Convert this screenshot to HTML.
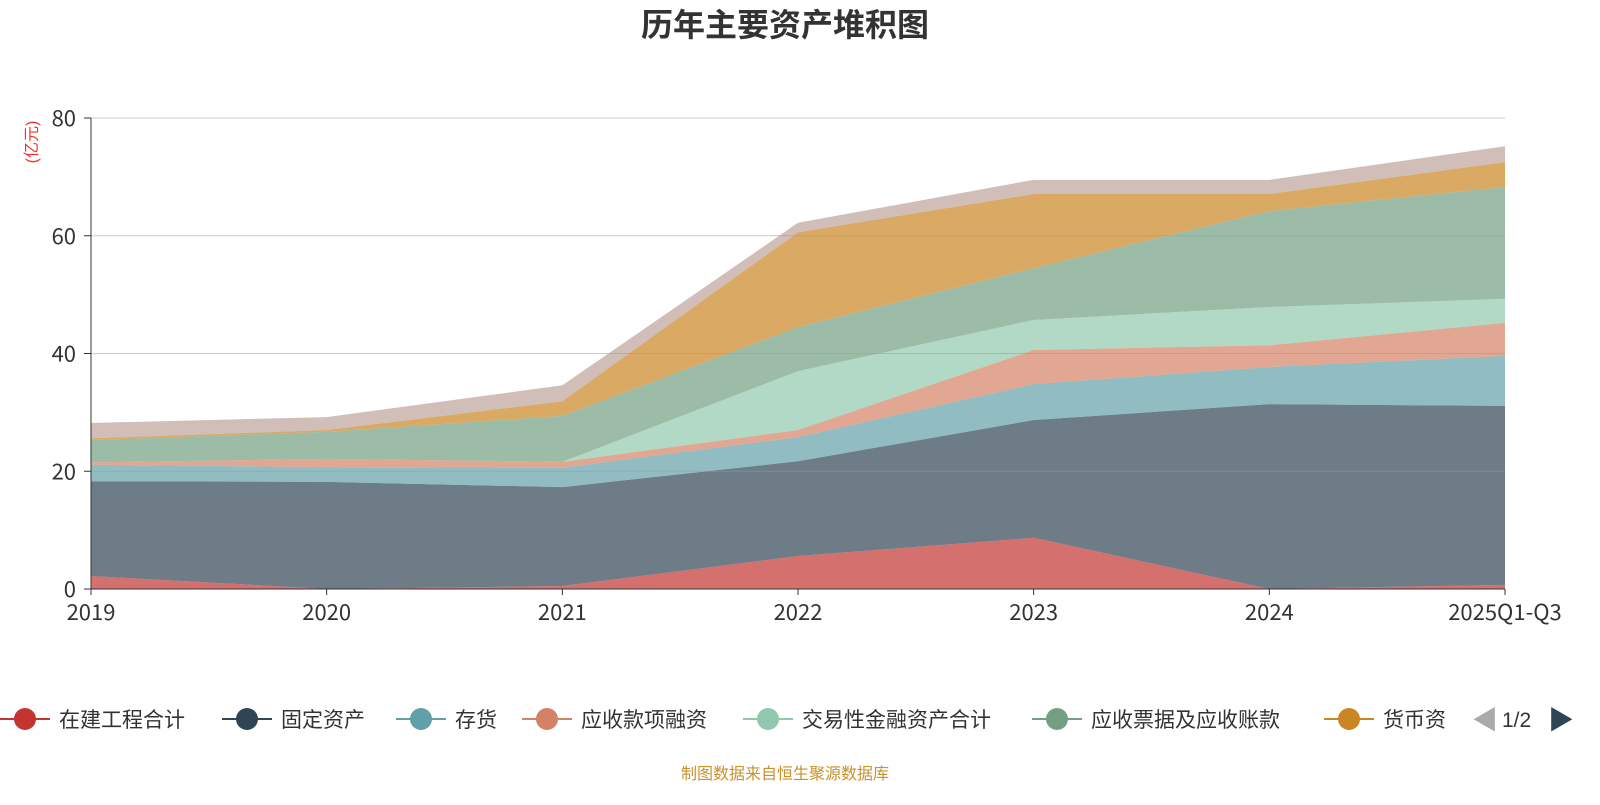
<!DOCTYPE html>
<html><head><meta charset="utf-8"><style>
body{margin:0;background:#fff;}
svg text{font-family:"Liberation Sans","Noto Sans CJK SC",sans-serif;}
svg text.tick{font-family:"Noto Sans CJK SC","Liberation Sans",sans-serif;}
</style></head><body>
<svg id="chart" width="1600" height="800" viewBox="0 0 1600 800" xmlns="http://www.w3.org/2000/svg">
<text x="785" y="36" text-anchor="middle" font-size="32" font-weight="bold" fill="#333">历年主要资产堆积图</text>
<text transform="translate(37,142) rotate(-90)" text-anchor="middle" font-size="16" fill="#e33">(亿元)</text>
<g id="areas"></g>
<g id="grid"></g>
<g id="axes"></g>
<g id="legend"></g>
<text x="1472" y="729" font-size="26" fill="#aaa">◀</text>
<text x="1502" y="727" font-size="21" fill="#333">1/2</text>
<text x="1548" y="729" font-size="26" fill="#2f4554">▶</text>
<text x="785" y="779" text-anchor="middle" font-size="16" fill="#c8922a">制图数据来自恒生聚源数据库</text>
</svg>
<script>
const categories=["2019","2020","2021","2022","2023","2024","2025Q1-Q3"];
const seriesNames=["在建工程合计","固定资产","存货","应收款项融资","交易性金融资产合计","应收票据及应收账款","货币资金","其他"];
const s0=[2.2,0,0.5,5.6,8.7,0,0.7];
const s1=[16.1,18.2,16.8,16.1,20.0,31.4,30.4];
const s2=[2.8,2.5,3.3,4.1,6.1,6.3,8.5];
const s3=[0.4,1.4,1.0,1.2,5.8,3.7,5.6];
const s4=[0,0,0,10.0,5.1,6.5,4.1];
const s5=[3.8,4.6,7.8,7.5,8.8,16.3,19.0];
const s6=[0.3,0.3,2.5,16.1,12.6,2.9,4.2];
const s7=[2.6,2.2,2.7,1.6,2.4,2.4,2.7];
const yTicks=[0,20,40,60,80];
const colors=["#c23531","#2f4554","#61a0a8","#d48265","#91c7ae","#749f83","#ca8622","#bda29a"];
const series=[s0,s1,s2,s3,s4,s5,s6,s7];
const NS="http://www.w3.org/2000/svg";
const x=i=>91+i*(1505-91)/(categories.length-1);
const y=v=>589-v*(589-118)/80;
function mk(tag,attrs,parent){const e=document.createElementNS(NS,tag);for(const k in attrs)e.setAttribute(k,attrs[k]);parent.appendChild(e);return e;}
const areas=document.getElementById('areas');
let base=categories.map(()=>0);
series.forEach((s,k)=>{
  const top=base.map((b,i)=>b+s[i]);
  let d="M"+top.map((v,i)=>x(i)+","+y(v)).join(" L");
  for(let i=categories.length-1;i>=0;i--)d+=" L"+x(i)+","+y(base[i]);
  d+=" Z";
  const p=mk('path',{d:d,fill:colors[k],'fill-opacity':0.7,stroke:'none'},areas);
  
  
  base=top;
});
const grid=document.getElementById('grid');
yTicks.forEach(t=>{
  if(t>0){const l=mk('line',{x1:91,x2:1505,y1:y(t),y2:y(t),stroke:'#999','stroke-opacity':0.5,'stroke-width':1},grid);
  
  }
  const tk=mk('line',{x1:84,x2:91,y1:y(t),y2:y(t),stroke:'#333'},grid);
  
  
  const tx=mk('text',{x:76,y:y(t)+8,'text-anchor':'end','font-size':22,fill:'#333',class:'tick'},grid);
  tx.textContent=t;
  
  
});
const axes=document.getElementById('axes');
const ya=mk('line',{x1:91,x2:91,y1:118,y2:589,stroke:'#333'},axes);


const xa=mk('line',{x1:91,x2:1505,y1:589,y2:589,stroke:'#333'},axes);


categories.forEach((c,i)=>{
  const tk=mk('line',{x1:x(i),x2:x(i),y1:589,y2:595,stroke:'#333'},axes);
  
  
  const t=mk('text',{x:x(i),y:620,'text-anchor':'middle','font-size':22,fill:'#333',class:'tick'},axes);
  t.textContent=c;
  
  
});
const lg=document.getElementById('legend');
const lx=[0,222,396,522,743,1032,1324];
for(let k=0;k<7;k++){
  const g=mk('g',{},lg);
  
  
  mk('line',{x1:lx[k],x2:lx[k]+50,y1:719,y2:719,stroke:colors[k],'stroke-width':2},g);
  mk('circle',{cx:lx[k]+25,cy:719,r:11,fill:colors[k]},g);
  const t=mk('text',{x:lx[k]+59,y:727,'font-size':21,fill:'#333'},g);
  t.textContent=k==6?"货币资":seriesNames[k];
}
</script>
</body></html>
